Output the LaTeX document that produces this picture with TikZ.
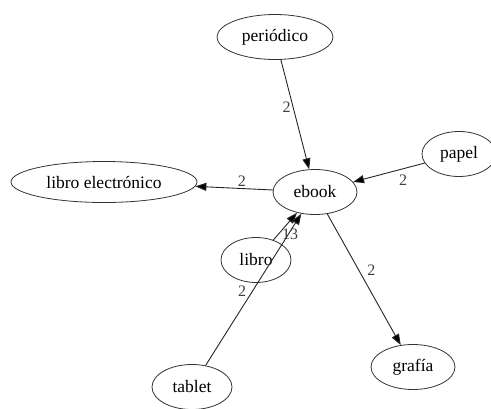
\documentclass[tikz,border=0pt]{standalone}
\usepackage{fontspec}
\setmainfont{Liberation Serif}
\usetikzlibrary{shapes.geometric,arrows.meta}

\begin{document}
\begin{tikzpicture}[x=1pt,y=-1pt,
  term/.style={ellipse,draw=black!80,line width=0.8pt,inner sep=0pt,minimum height=45pt,font=\fontsize{17.5}{20}\selectfont},
  arr/.style={-{Triangle[length=11pt,width=8pt]},line width=0.9pt,draw=black!85},
  lbl/.style={font=\fontsize{16}{18}\selectfont,text=black!75,inner sep=2pt}]
\useasboundingbox (0,0) rectangle (491,408);
% \draw[help lines] (0,0) grid[step=50] (491,408);
\node (ebook) [term,minimum width=84pt] at (315,192) {ebook};
\node (periodico) [term,minimum width=116pt] at (275,37) {periódico};
\node (papel) [term,minimum width=74pt] at (459,154) {papel};
\node (libroe) [term,minimum width=186pt,minimum height=41pt] at (104,182) {libro electrónico};
\node (libro) [term,minimum width=70pt] at (256,260) {libro};
\node (grafia) [term,minimum width=84pt] at (413,367) {grafía};
\node (tablet) [term,minimum width=80pt] at (192,387) {tablet};
%
\path[arr] (periodico) edge node[lbl,left,pos=0.43] {2} (ebook);
\path[arr] (papel) edge node[lbl,below,pos=0.3,yshift=-4pt] {2} (ebook);
\path[arr] (ebook) edge node[lbl,above,pos=0.4] {2} (libroe);
\path[arr] (ebook) edge node[lbl,right,pos=0.43,xshift=6pt] {2} (grafia);
\path[arr] (libro) edge node[lbl,right,pos=0.1,xshift=4pt,yshift=3pt] {13} (ebook);
\path[arr] (tablet) edge node[lbl,left,pos=0.49,xshift=-4pt] {2} (ebook);
\end{tikzpicture}
\end{document}
